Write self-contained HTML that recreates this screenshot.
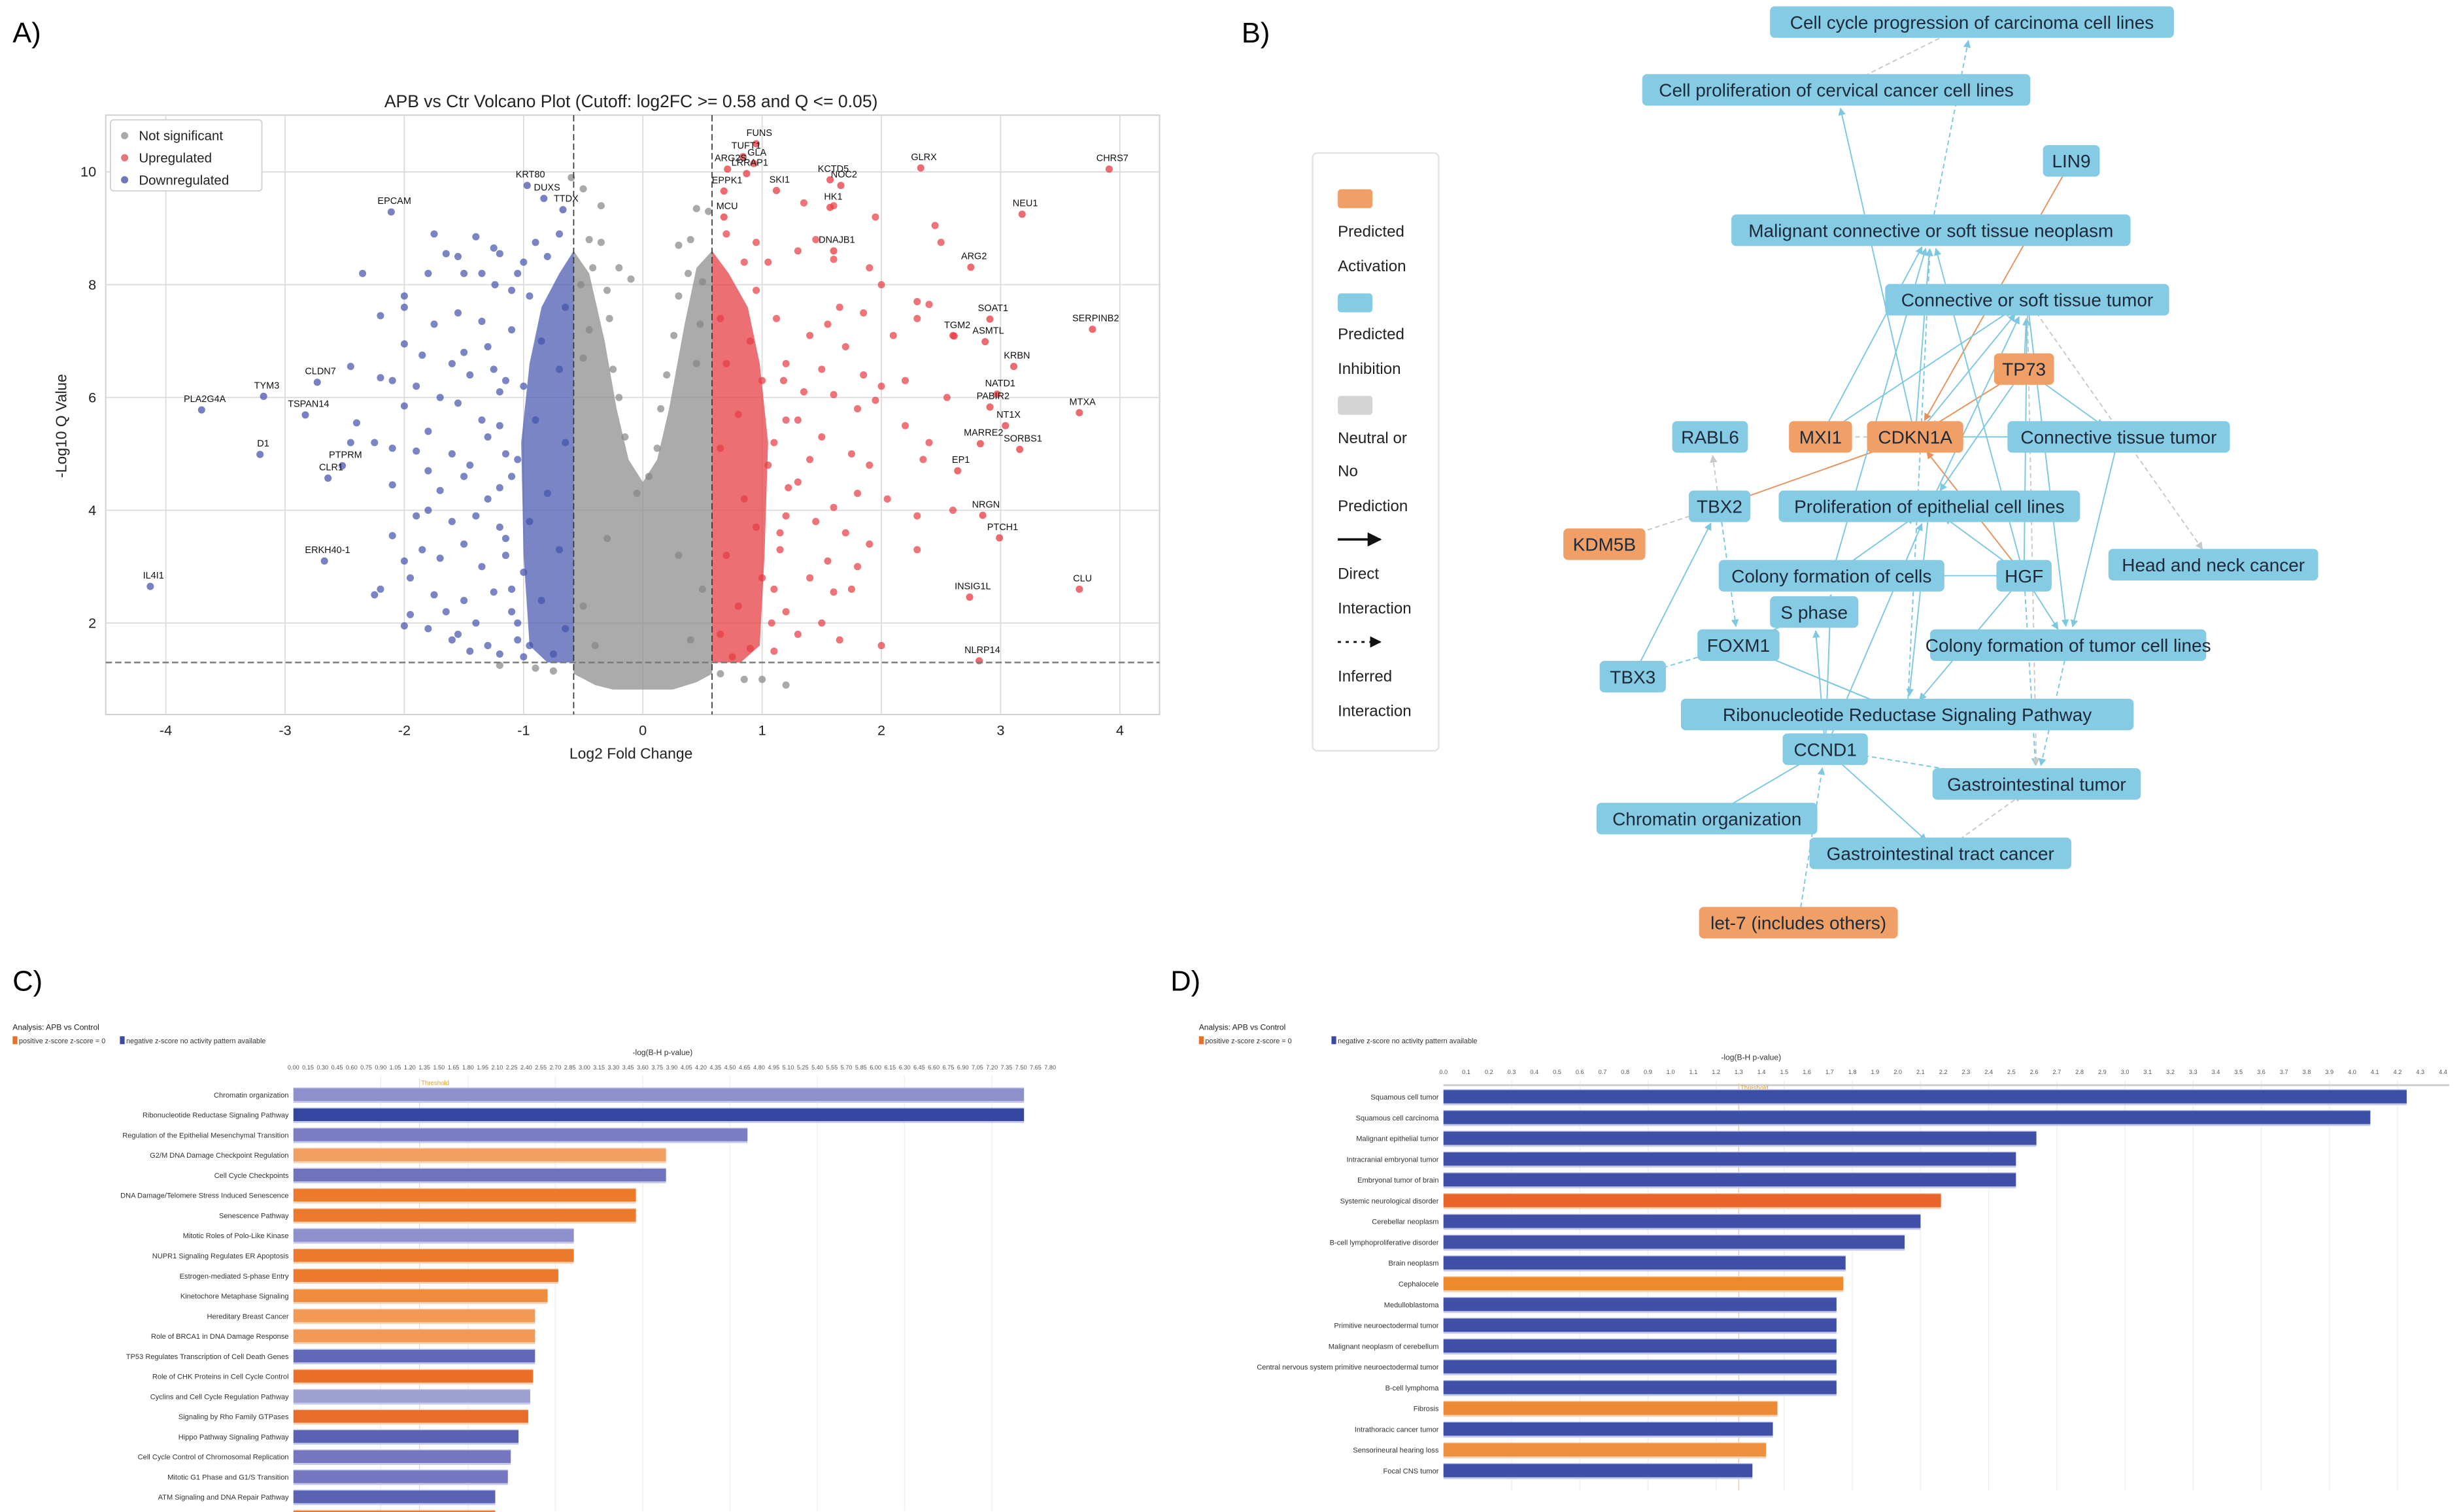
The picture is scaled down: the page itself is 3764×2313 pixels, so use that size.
<!DOCTYPE html>
<html><head><meta charset="utf-8">
<style>
html,body{margin:0;padding:0;background:#fff;}
svg{display:block;font-family:"Liberation Sans",sans-serif;}
</style></head>
<body>
<svg id="fig" xmlns="http://www.w3.org/2000/svg" width="3764" height="2313" viewBox="0 0 1560 958.6" preserveAspectRatio="none">
<rect x="0" y="0" width="1560" height="958.6" fill="#fff"/>
<text x="8" y="27" font-size="18">A)</text>
<text x="787" y="27" font-size="18">B)</text>
<text x="8" y="628" font-size="18">C)</text>
<text x="742" y="628" font-size="18">D)</text>
<g id="volcano"></g>
<g id="network"></g>
<g id="chartC"></g>
<g id="chartD"></g>
</svg>
<script>
const NS="http://www.w3.org/2000/svg";
function mk(parent,tag,attrs,text){const e=document.createElementNS(NS,tag);for(const k in attrs)e.setAttribute(k,attrs[k]);if(text!==undefined)e.textContent=text;parent.appendChild(e);return e;}

/* ================= VOLCANO DATA ================= */
const volcXTicks=[-4,-3,-2,-1,0,1,2,3,4];
const volcYTicks=[2,4,6,8,10];
const fcCutoff=0.58;
const qCutoffLog=1.3;
const grayPts="-0.5,9.7 -0.35,9.4 -0.45,8.8 -0.35,8.75 -0.2,8.3 -0.1,8.1 0.3,8.7 0.4,8.8 0.45,9.35 -0.6,9.9 0.55,9.3 -0.9,1.2 -1.2,1.25 1.2,0.9 1.0,1.0 0.85,1.0 0.65,1.1 -0.75,1.15 -0.3,7.9 0.3,7.8 -0.45,7.2 0.48,7.3 -0.25,6.5 0.2,6.4 -0.15,5.3 0.12,5.1 -0.05,4.3 0.05,4.6 -0.3,3.5 0.3,3.2 -0.5,2.3 0.5,2.6 -0.4,1.6 0.4,1.7 -0.42,8.3 -0.52,8.0 0.38,8.2 0.5,8.05 -0.28,7.4 0.26,7.1 -0.5,6.7 0.45,6.6 -0.2,6.0 0.15,5.8";
const bluePts="-1.75,8.9 -1.65,8.55 -1.55,8.5 -1.4,8.85 -1.25,8.65 -1.2,8.55 -1.5,8.2 -2.35,8.2 -1.8,8.2 -1.24,8.0 -2.0,7.8 -2.0,7.6 -2.2,7.45 -1.75,7.3 -1.55,7.5 -1.35,7.35 -1.1,7.9 -2.0,6.95 -1.85,6.75 -1.5,6.8 -1.3,6.9 -1.6,6.6 -1.45,6.4 -2.45,6.55 -2.2,6.35 -2.1,6.3 -1.9,6.2 -1.7,6.0 -2.0,5.85 -1.55,5.9 -1.35,5.6 -1.2,6.1 -2.4,5.55 -2.25,5.2 -2.1,5.1 -1.8,5.4 -1.9,5.05 -1.6,5.0 -1.45,4.8 -1.3,5.3 -1.15,5.0 -2.1,4.45 -1.7,4.35 -1.5,4.6 -1.3,4.2 -1.1,4.6 -1.8,4.0 -1.6,3.8 -1.4,3.9 -1.2,3.7 -2.1,3.55 -2.0,3.1 -1.85,3.3 -1.7,3.15 -1.5,3.4 -1.35,3.0 -1.15,3.2 -2.25,2.5 -2.2,2.6 -1.95,2.8 -1.75,2.5 -1.65,2.2 -1.5,2.4 -1.25,2.55 -1.1,2.2 -2.0,1.95 -1.8,1.9 -1.6,1.7 -1.45,1.5 -1.3,1.6 -1.2,1.45 -1.05,1.7 -1.4,2.0 -1.9,3.9 -2.45,5.2 -1.95,2.15 -1.55,1.8 -1.0,1.4 -1.35,8.2 -1.8,4.7 -1.25,6.5 -1.05,8.2 -0.7,8.9 -0.8,8.5 -0.95,7.8 -0.65,7.6 -0.85,7.0 -0.7,6.5 -1.0,6.2 -0.9,5.6 -0.65,5.2 -1.05,4.9 -0.8,4.3 -0.95,3.8 -0.7,3.3 -1.0,2.9 -0.85,2.4 -0.65,1.9 -0.95,1.6 -0.75,1.45 -0.9,8.75 -1.0,8.4 -1.1,7.2 -1.15,6.3 -1.2,5.5 -1.2,4.4 -1.15,3.5 -1.1,2.6 -1.05,2.0";
const redPts="1.3,8.6 1.45,8.8 1.6,8.45 1.9,8.3 2.0,8.0 1.65,7.6 1.55,7.3 1.85,7.5 2.1,7.1 2.3,7.4 2.4,7.65 1.4,7.1 1.7,6.9 1.2,6.6 1.5,6.5 1.85,6.4 2.0,6.2 2.2,6.3 1.35,6.1 1.6,6.05 1.8,5.8 1.95,5.95 2.2,5.5 1.3,5.6 1.5,5.3 1.75,5.0 1.9,4.8 1.4,4.9 1.1,5.2 2.05,4.2 2.3,3.9 1.8,4.3 1.6,4.05 1.3,4.5 1.45,3.8 1.7,3.6 1.9,3.4 2.3,3.3 1.2,3.9 1.55,3.1 1.8,3.0 1.15,3.3 1.75,2.6 1.6,2.55 1.4,2.8 1.2,2.2 1.5,2.0 1.3,1.8 1.1,1.5 2.0,1.6 1.65,1.7 2.5,8.75 2.45,9.05 1.95,9.2 1.6,9.4 1.35,9.45 2.3,7.7 2.6,7.1 2.6,4.0 2.35,4.9 2.55,6.0 2.4,5.2 0.7,8.9 0.85,8.4 0.95,7.9 0.65,7.4 0.9,7.0 0.7,6.6 1.0,6.3 0.8,5.7 0.65,5.1 1.05,4.8 0.85,4.2 0.95,3.7 0.7,3.2 1.0,2.8 0.8,2.3 0.65,1.8 0.9,1.55 0.75,1.4 0.95,8.75 1.05,8.4 1.12,7.4 1.18,6.3 1.2,5.6 1.22,4.4 1.15,3.6 1.1,2.6 1.08,2.0";
const geneNames=["FUNS","TUFT1","GLA","ARG2S","LRRAP1","SKI1","KCTD5","NOC2","HK1","GLRX","CHRS7","NEU1","ARG2","SOAT1","SERPINB2","TGM2","ASMTL","KRBN","NATD1","PABIR2","MTXA","NT1X","MARRE2","SORBS1","EP1","NRGN","PTCH1","INSIG1L","CLU","NLRP14","EPPK1","MCU","DNAJB1","KRT80","DUXS","TTDX","EPCAM","CLDN7","TYM3","PLA2G4A","TSPAN14","D1","PTPRM","CLR1","ERKH40-1","IL4I1"];
const geneFC=[0.95,0.84,0.93,0.71,0.87,1.12,1.57,1.66,1.57,2.33,3.91,3.18,2.75,2.91,3.77,2.61,2.87,3.11,2.97,2.91,3.66,3.04,2.83,3.16,2.64,2.85,2.99,2.74,3.66,2.82,0.68,0.68,1.6,-0.97,-0.83,-0.67,-2.11,-2.73,-3.18,-3.7,-2.83,-3.21,-2.52,-2.64,-2.67,-4.13];
const geneQ=[10.5,10.27,10.15,10.05,9.97,9.67,9.86,9.76,9.37,10.07,10.05,9.25,8.31,7.39,7.21,7.09,6.99,6.55,6.06,5.83,5.73,5.5,5.18,5.08,4.7,3.91,3.51,2.46,2.6,1.33,9.66,9.2,8.6,9.76,9.53,9.33,9.29,6.27,6.02,5.78,5.69,4.99,4.79,4.57,3.1,2.65];

/* ================= PANEL C DATA ================= */
const catsC=["Chromatin organization","Ribonucleotide Reductase Signaling Pathway","Regulation of the Epithelial Mesenchymal Transition","G2/M DNA Damage Checkpoint Regulation","Cell Cycle Checkpoints","DNA Damage/Telomere Stress Induced Senescence","Senescence Pathway","Mitotic Roles of Polo-Like Kinase","NUPR1 Signaling Regulates ER Apoptosis","Estrogen-mediated S-phase Entry","Kinetochore Metaphase Signaling","Hereditary Breast Cancer","Role of BRCA1 in DNA Damage Response","TP53 Regulates Transcription of Cell Death Genes","Role of CHK Proteins in Cell Cycle Control","Cyclins and Cell Cycle Regulation Pathway","Signaling by Rho Family GTPases","Hippo Pathway Signaling Pathway","Cell Cycle Control of Chromosomal Replication","Mitotic G1 Phase and G1/S Transition","ATM Signaling and DNA Repair Pathway","Apoptosis Signaling"];
const valsC=[7.53,7.53,4.68,3.84,3.84,3.53,3.53,2.89,2.89,2.73,2.62,2.49,2.49,2.49,2.47,2.44,2.42,2.32,2.24,2.21,2.08,2.08];
const zdirC=["down","down","down","up","down","up","up","down","up","up","up","up","up","down","up","down","up","down","down","down","down","up"];
const ticksC=[0.0,0.15,0.3,0.45,0.6,0.75,0.9,1.05,1.2,1.35,1.5,1.65,1.8,1.95,2.1,2.25,2.4,2.55,2.7,2.85,3.0,3.15,3.3,3.45,3.6,3.75,3.9,4.05,4.2,4.35,4.5,4.65,4.8,4.95,5.1,5.25,5.4,5.55,5.7,5.85,6.0,6.15,6.3,6.45,6.6,6.75,6.9,7.05,7.2,7.35,7.5,7.65,7.8];
const thresholdC=1.3;

/* ================= PANEL D DATA ================= */
const catsD=["Squamous cell tumor","Squamous cell carcinoma","Malignant epithelial tumor","Intracranial embryonal tumor","Embryonal tumor of brain","Systemic neurological disorder","Cerebellar neoplasm","B-cell lymphoproliferative disorder","Brain neoplasm","Cephalocele","Medulloblastoma","Primitive neuroectodermal tumor","Malignant neoplasm of cerebellum","Central nervous system primitive neuroectodermal tumor","B-cell lymphoma","Fibrosis","Intrathoracic cancer tumor","Sensorineural hearing loss","Focal CNS tumor"];
const valsD=[4.24,4.08,2.61,2.52,2.52,2.19,2.10,2.03,1.77,1.76,1.73,1.73,1.73,1.73,1.73,1.47,1.45,1.42,1.36];
const zdirD=["down","down","down","down","down","up","down","down","down","up","down","down","down","down","down","up","down","up","down"];
const ticksD=[0.0,0.1,0.2,0.3,0.4,0.5,0.6,0.7,0.8,0.9,1.0,1.1,1.2,1.3,1.4,1.5,1.6,1.7,1.8,1.9,2.0,2.1,2.2,2.3,2.4,2.5,2.6,2.7,2.8,2.9,3.0,3.1,3.2,3.3,3.4,3.5,3.6,3.7,3.8,3.9,4.0,4.1,4.2,4.3,4.4];
const thresholdD=1.3;

/* ================= DRAW VOLCANO ================= */
(function(){
const g=document.getElementById('volcano');
const X0=67,X1=735,Y0=73,Y1=453;
const xs=v=>407.5+v*75.6, ys=v=>466.5-v*35.75;
const frame=mk(g,'rect',{x:X0,y:Y0,width:X1-X0,height:Y1-Y0,fill:'#fff',stroke:'#d0d0d0','stroke-width':0.8});


volcXTicks.forEach(t=>{
 const l=mk(g,'line',{x1:xs(t),x2:xs(t),y1:Y0,y2:Y1,stroke:'#dadada','stroke-width':0.7});
 
 
 const tx=mk(g,'text',{x:xs(t),y:Y1+13,'font-size':9,'text-anchor':'middle',fill:'#222'},String(t));
 
 
});
volcYTicks.forEach(t=>{
 const l=mk(g,'line',{x1:X0,x2:X1,y1:ys(t),y2:ys(t),stroke:'#dadada','stroke-width':0.7});
 
 
 const tx=mk(g,'text',{x:X0-6,y:ys(t)+3,'font-size':9,'text-anchor':'end',fill:'#222'},String(t));
 
 
});
const poly=(pts,fill,op,name)=>{const p=mk(g,'polygon',{points:pts.map(q=>xs(q[0])+','+ys(q[1])).join(' '),fill:fill,opacity:op});};
poly([[-0.58,8.6],[-0.58,1.1],[-0.4,0.9],[-0.25,0.82],[0.25,0.82],[0.45,0.95],[0.58,1.1],[0.58,8.6],[0.45,8.3],[0.35,7.3],[0.22,5.8],[0.12,4.9],[0,4.5],[-0.12,4.9],[-0.22,5.8],[-0.32,7.0],[-0.45,8.2]],'#8a8a8a',0.72,'not-significant-density');
poly([[-0.58,8.6],[-0.7,8.2],[-0.85,7.6],[-0.95,6.6],[-1.02,5.2],[-1.0,3.2],[-0.95,1.6],[-0.8,1.3],[-0.58,1.3]],'#4556ad',0.72,'downregulated-density');
poly([[0.58,8.6],[0.72,8.2],[0.88,7.6],[0.98,6.6],[1.05,5.2],[1.02,3.2],[0.98,1.6],[0.82,1.3],[0.58,1.3]],'#e5383f',0.72,'upregulated-density');
const drawPts=(str,col,name)=>{str.trim().split(/\s+/).forEach(s=>{const [a,b]=s.split(',').map(Number);const c=mk(g,'circle',{cx:xs(a),cy:ys(b),r:2.3,fill:col,'fill-opacity':0.7});});};
drawPts(grayPts,'#858585','not-significant-point');
drawPts(bluePts,'#4252ab','downregulated-point');
drawPts(redPts,'#e53a41','upregulated-point');
geneNames.forEach((n,i)=>{
 const col=geneFC[i]>0?'#e53a41':'#4a56ad';
 const c=mk(g,'circle',{cx:xs(geneFC[i]),cy:ys(geneQ[i]),r:2.3,fill:col,'fill-opacity':0.75});
 
 
 const t=mk(g,'text',{x:xs(geneFC[i])+2,y:ys(geneQ[i])-5,'font-size':6,fill:'#111','text-anchor':'middle'},n);
 
 
});
[-fcCutoff,fcCutoff].forEach(v=>{const l=mk(g,'line',{x1:xs(v),x2:xs(v),y1:Y0,y2:Y1,stroke:'#333','stroke-width':0.7,'stroke-dasharray':'4,2'});});
const hl=mk(g,'line',{x1:X0,x2:X1,y1:ys(qCutoffLog),y2:ys(qCutoffLog),stroke:'#777','stroke-width':1,'stroke-dasharray':'4,2'});


const ti=mk(g,'text',{x:400,y:68,'font-size':11,'text-anchor':'middle',fill:'#222'},'APB vs Ctr Volcano Plot (Cutoff: log2FC >= 0.58 and Q <= 0.05)');


const xt=mk(g,'text',{x:400,y:481,'font-size':9.5,'text-anchor':'middle',fill:'#222'},'Log2 Fold Change');


const yt=mk(g,'text',{x:0,y:0,'font-size':9.5,'text-anchor':'middle',fill:'#222',transform:'translate(42,270) rotate(-90)'},'-Log10 Q Value');


const lg=mk(g,'g',{});


mk(lg,'rect',{x:70,y:76,width:96,height:45,fill:'#fff',stroke:'#ccc','stroke-width':0.7,rx:2});
[['Not significant','#aaa'],['Upregulated','#e5777c'],['Downregulated','#6f78b8']].forEach((e,i)=>{
 const it=mk(lg,'g',{});
 
 
 mk(it,'circle',{cx:79,cy:86+i*14,r:2.3,fill:e[1]});
 mk(it,'text',{x:88,y:89+i*14,'font-size':8.5,fill:'#222'},e[0]);
});
})();

/* ================= NETWORK ================= */
const nodeLabels=["Cell cycle progression of carcinoma cell lines","Cell proliferation of cervical cancer cell lines","LIN9","Malignant connective or soft tissue neoplasm","Connective or soft tissue tumor","TP73","RABL6","MXI1","CDKN1A","Connective tissue tumor","TBX2","Proliferation of epithelial cell lines","KDM5B","Colony formation of cells","HGF","Head and neck cancer","S phase","FOXM1","Colony formation of tumor cell lines","TBX3","Ribonucleotide Reductase Signaling Pathway","CCND1","Gastrointestinal tumor","Chromatin organization","Gastrointestinal tract cancer","let-7 (includes others)"];
const nodeState=["inh","inh","inh","inh","inh","act","inh","act","act","inh","inh","inh","act","inh","inh","inh","inh","inh","inh","inh","inh","inh","inh","inh","inh","act"];
(function(){
const g=document.getElementById('network');
const pos=[[1250,14,256],[1164,57,246],[1313,102,36],[1224,146,253],[1285,190,180],[1283,234,38],[1084,277,48],[1154,277,40],[1214,277,61],[1343,277,141],[1090,321,39],[1223,321,191],[1017,345,52],[1161,365,143],[1283,365,35],[1403,358,133],[1150,388,56],[1102,409,52],[1311,409,175],[1035,429,42],[1209,453,287],[1157,475,54],[1291,497,132],[1082,519,140],[1230,541,166],[1140,585,126]];
const defs=mk(g,'defs',{});
[['ab','#7cc8e0'],['ao','#e8915a'],['ag','#c8c8c8'],['ak','#111']].forEach(a=>{const m=mk(defs,'marker',{id:a[0],viewBox:'0 0 10 10',refX:9,refY:5,markerWidth:6,markerHeight:6,orient:'auto'});mk(m,'path',{d:'M0,0 L10,5 L0,10 z',fill:a[1]});});
const edges=[[1,0,'g'],[3,0,'bd'],[8,1,'b'],[2,8,'o'],[5,8,'o'],[10,8,'o'],[14,8,'o'],[8,7,'g'],[8,9,'b'],[8,3,'b'],[8,4,'b'],[5,4,'b'],[5,9,'b'],[5,11,'b'],[7,4,'b'],[7,3,'b'],[14,3,'b'],[14,4,'b'],[14,11,'b'],[14,13,'b'],[14,18,'b'],[14,22,'bd'],[14,20,'b'],[4,15,'g'],[4,18,'b'],[9,18,'b'],[10,6,'g'],[10,12,'g'],[10,17,'bd'],[19,10,'b'],[19,17,'bd'],[17,20,'b'],[20,17,'b'],[16,17,'b'],[21,16,'b'],[21,13,'b'],[21,11,'b'],[21,23,'b'],[21,24,'b'],[21,22,'bd'],[25,21,'bd'],[24,22,'g'],[13,11,'b'],[4,22,'g'],[20,3,'bd'],[11,4,'b'],[13,3,'b'],[18,22,'bd'],[11,20,'b']];
edges.forEach(e=>{
 const a=pos[e[0]],b=pos[e[1]];
 const dx=b[0]-a[0],dy=b[1]-a[1],L=Math.hypot(dx,dy)||1;
 const sh=Math.min(12,L/3);
 const col=e[2]==='o'?'#e8915a':(e[2]==='g'?'#c8c8c8':'#7cc8e0');
 const l=mk(g,'line',{x1:a[0],y1:a[1],x2:b[0]-dx/L*sh,y2:b[1]-dy/L*sh,stroke:col,'stroke-width':0.8,'marker-end':'url(#'+(e[2]==='o'?'ao':e[2]==='g'?'ag':'ab')+')'});
 if(e[2]!=='b'&&e[2]!=='o')l.setAttribute('stroke-dasharray','3,2');
 
 
});
nodeLabels.forEach((n,i)=>{
 const p=pos[i];
 const ng=mk(g,'g',{});
 
 
 mk(ng,'rect',{x:p[0]-p[2]/2,y:p[1]-10,width:p[2],height:20,rx:3,fill:nodeState[i]==='act'?'#f0a067':'#86cbe4'});
 mk(ng,'text',{x:p[0],y:p[1]+4.2,'font-size':11.6,'text-anchor':'middle',fill:'#1d2a3a'},n);
});
const lg=mk(g,'g',{});


mk(lg,'rect',{x:832,y:97,width:80,height:379,rx:3,fill:'#fff',stroke:'#e2e2e2','stroke-width':1});
mk(lg,'rect',{x:848,y:120,width:22,height:12,rx:2,fill:'#f0a067'});
mk(lg,'rect',{x:848,y:186,width:22,height:12,rx:2,fill:'#86cbe4'});
mk(lg,'rect',{x:848,y:251,width:22,height:12,rx:2,fill:'#d4d4d4'});
[['Predicted',150],['Activation',172],['Predicted',215],['Inhibition',237],['Neutral or',281],['No',302],['Prediction',324],['Direct',367],['Interaction',389],['Inferred',432],['Interaction',454]].forEach(t=>mk(lg,'text',{x:848,y:t[1],'font-size':10,fill:'#222'},t[0]));
mk(lg,'line',{x1:848,y1:342,x2:875,y2:342,stroke:'#111','stroke-width':1.5,'marker-end':'url(#ak)'});
mk(lg,'line',{x1:848,y1:407,x2:875,y2:407,stroke:'#111','stroke-width':1.2,'stroke-dasharray':'2,3','marker-end':'url(#ak)'});
})();

/* ================= BAR CHARTS ================= */
function barChart(gid,cats,vals,dirs,ticks,thr,cfg){
 const g=document.getElementById(gid);
 const xs=v=>cfg.x0+v*cfg.ppu;
 const t1=mk(g,'text',{x:cfg.lx,y:cfg.ly,'font-size':5,fill:'#222'},cfg.analysis);
 
 
 const lgA=mk(g,'g',{});
 
 
 mk(lgA,'rect',{x:cfg.lx,y:cfg.ly+4,width:3,height:5,fill:'#e9702a'});
 mk(lgA,'text',{x:cfg.lx+4,y:cfg.ly+8.5,'font-size':4.5,fill:'#333'},'positive z-score   z-score = 0');
 const lgB=mk(g,'g',{});
 
 
 mk(lgB,'rect',{x:cfg.lx+cfg.lgb,y:cfg.ly+4,width:3,height:5,fill:'#3b4aa5'});
 mk(lgB,'text',{x:cfg.lx+cfg.lgb+4,y:cfg.ly+8.5,'font-size':4.5,fill:'#333'},'negative z-score   no activity pattern available');
 const at=mk(g,'text',{x:cfg.titleX,y:cfg.titleY,'font-size':5,'text-anchor':'middle',fill:'#333'},'-log(B-H p-value)');
 
 
 ticks.forEach((t,i)=>{
  const tx=mk(g,'text',{x:xs(t),y:cfg.tickY,'font-size':3.8,'text-anchor':'middle',fill:'#555'},t.toFixed(cfg.dec));
  
  
  if(i%cfg.gridEvery===0&&i>0){const l=mk(g,'line',{x1:xs(t),x2:xs(t),y1:cfg.tickY+4,y2:cfg.bottom,stroke:'#efefef','stroke-width':0.6});}
 });
 if(cfg.axisLine){const al=mk(g,'line',{x1:cfg.x0,x2:xs(ticks[ticks.length-1])+4,y1:cfg.tickY+7,y2:cfg.tickY+7,stroke:'#ccc','stroke-width':1.2});}
 const th=mk(g,'line',{x1:xs(thr),x2:xs(thr),y1:cfg.tickY+6,y2:cfg.bottom,stroke:'#f1c89a','stroke-width':cfg.thrW});
 
 
 const thl=mk(g,'text',{x:xs(thr)+1,y:cfg.tickY+10,'font-size':4,fill:'#e0a030'},'Threshold');
 
 
 cats.forEach((c,i)=>{
  const cy=cfg.row0+i*cfg.step;
  const col=cfg.colors[i];
  const bg=mk(g,'g',{});
  
  
  mk(bg,'rect',{x:cfg.x0,y:cy-cfg.h/2-0.6,width:xs(vals[i])-cfg.x0,height:cfg.h+1.8,fill:dirs[i]==='up'?'#f6d2b5':'#c4c8ea'});
  mk(bg,'rect',{x:cfg.x0,y:cy-cfg.h/2,width:xs(vals[i])-cfg.x0,height:cfg.h,fill:col});
  const lb=mk(g,'text',{x:cfg.x0-3,y:cy+1.8,'font-size':4.6,'text-anchor':'end',fill:'#333'},c);
  
  
 });
}
barChart('chartC',catsC,valsC,zdirC,ticksC,thresholdC,{analysis:'Analysis: APB vs Control',x0:186,ppu:61.5,lx:8,ly:653,lgb:68,titleX:420,titleY:669,tickY:678,dec:2,gridEvery:6,axisLine:false,thrW:0.4,bottom:958,row0:694,step:12.75,h:8,
 colors:['#8e90cc','#3346a0','#7b7dc2','#f2a062','#6f72bd','#ec7a2c','#ec7a2c','#8e90cc','#ec7a2c','#ec7a2c','#ef8c3e','#f29a55','#f29a55','#6268b8','#e96f28','#9fa0d2','#e86d2a','#5a62b3','#7477c0','#7477c0','#5a62b3','#ec7a2c']});
barChart('chartD',catsD,valsD,zdirD,ticksD,thresholdD,{analysis:'Analysis: APB vs Control',x0:915,ppu:144,lx:760,ly:653,lgb:84,titleX:1110,titleY:672,tickY:681,dec:1,gridEvery:3,axisLine:true,thrW:0.6,bottom:945,row0:695.3,step:13.17,h:8.4,
 colors:['#3b4fa6','#3b4fa6','#3f50a6','#3f50a6','#3f50a6','#e9652a','#3f50a6','#4152a6','#3f50a6','#ef8a2c','#3f50a6','#3f50a6','#3f50a6','#3f50a6','#3f50a6','#ec8a35','#3f50a6','#ef9040','#3f50a6']});
</script>
</body></html>
